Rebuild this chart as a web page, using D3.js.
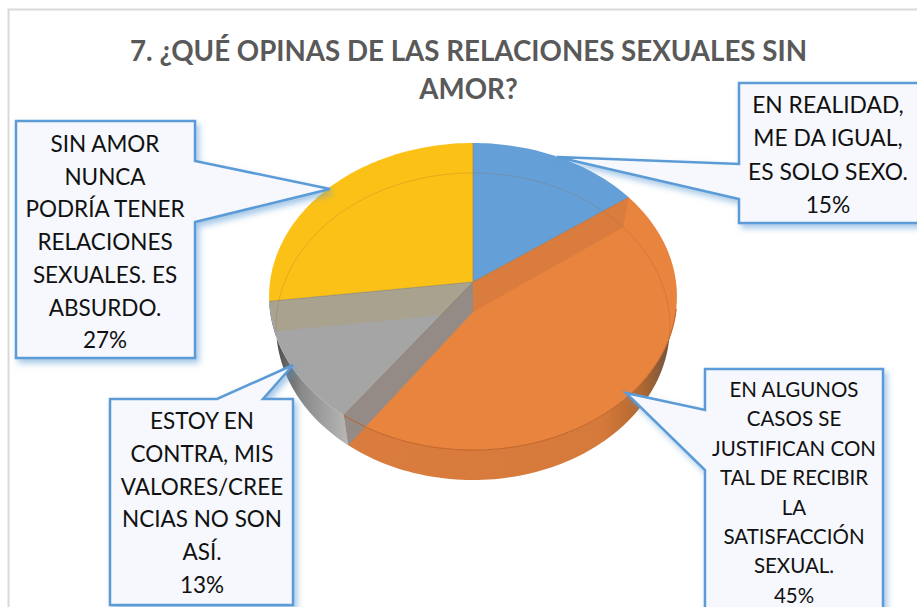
<!DOCTYPE html>
<meta charset="utf-8">
<style>
    html, body { margin: 0; padding: 0; background: #fff; overflow: hidden; }
    text { font-family: Lato, "Open Sans", sans-serif; }
</style>
<div id="chart"></div>
<script src="https://d3js.org/d3.v7.min.js"></script>
<script>
    // data, in slice order clockwise from 12 o'clock
    var categories = ['realidad', 'algunos', 'contra', 'nunca'];
    var values = [15, 45, 13, 27];
    var colours = ['#659fd7', '#e9843f', '#a5a5a5', '#fcc117'];
    var titleLines = ['7. ¿QUÉ OPINAS DE LAS RELACIONES SEXUALES SIN', 'AMOR?'];
    var labelLines = [
        ['EN REALIDAD,', 'ME DA IGUAL,', 'ES SOLO SEXO.'],
        ['EN ALGUNOS', 'CASOS SE', 'JUSTIFICAN CON', 'TAL DE RECIBIR', 'LA', 'SATISFACCIÓN', 'SEXUAL.'],
        ['ESTOY EN', 'CONTRA, MIS', 'VALORES/CREE', 'NCIAS NO SON', 'ASÍ.'],
        ['SIN AMOR', 'NUNCA', 'PODRÍA TENER', 'RELACIONES', 'SEXUALES. ES', 'ABSURDO.']
    ];

    var width = 917,
        height = 607,
        cx = 473,
        topR = 203,
        floorR = 196,
        depth = 30,
        // perspective of the disc: y = (persA * v + persB) / (persC * v + 1)
        persA = 125.5,
        persB = 282,
        persC = -0.0945;

    // callout boxes: outline goes clockwise from the box corner
    var callouts = [
        { outline: [[739, 83], [925, 83], [925, 223], [739, 223], [739, 199], [557, 157], [739, 164]],
          cx: 828, first: 113, step: 33.3, size: 22.8 },
        { outline: [[705, 369], [883, 369], [883, 620], [705, 620], [705, 470], [626, 393], [705, 410]],
          cx: 794, first: 397, step: 29.4, size: 20.5 },
        { outline: [[110, 399], [217, 399], [293, 365], [263, 399], [293, 399], [293, 605], [110, 605]],
          cx: 202, first: 429, step: 32.8, size: 22.5 },
        { outline: [[16, 121], [195, 121], [195, 161], [330, 189], [195, 222], [195, 358], [16, 358]],
          cx: 105, first: 152, step: 32.7, size: 22.5 }
    ];

    var svg = d3.select('#chart').append('svg')
        .attr('width', width)
        .attr('height', height);

    var defs = svg.append('defs');

    var shadow = defs.append('filter').attr('id', 'calloutShadow')
        .attr('x', '-20%').attr('y', '-20%').attr('width', '140%').attr('height', '140%');
    shadow.append('feDropShadow')
        .attr('dx', 3).attr('dy', 4).attr('stdDeviation', 3)
        .attr('flood-color', '#5b9bd5').attr('flood-opacity', 0.55);

    function gradient(id, x1, x2, stops) {
        var g = defs.append('linearGradient').attr('id', id)
            .attr('gradientUnits', 'userSpaceOnUse')
            .attr('x1', x1).attr('x2', x2).attr('y1', 0).attr('y2', 0);
        stops.forEach(function(s) {
            g.append('stop').attr('offset', s[0]).attr('stop-color', s[1]);
        });
    }
    gradient('wallGrey', 276, 350, [[0, '#4c4c4c'], [0.35, '#8a8a8a'], [1, '#b9b9b9']]);
    gradient('wallOrange', 350, 672, [[0, '#d97c3d'], [0.78, '#d67a3b'], [0.9, '#b5682f'], [1, '#6b5443']]);

    // frame of the chart area
    svg.append('path')
        .attr('d', 'M8.5,' + height + 'V9.5H' + width)
        .attr('fill', 'none')
        .attr('stroke', '#d9d9d9')
        .attr('stroke-width', 2);

    // title
    svg.append('g').selectAll('text').data(titleLines).enter().append('text')
        .attr('x', 468.5)
        .attr('y', function(d, i) { return 61 + i * 38; })
        .attr('text-anchor', 'middle')
        .attr('font-size', 27.7)
        .attr('font-weight', 700)
        .attr('fill', '#595959')
        .text(function(d) { return d; });

    // the disc
    var slices = d3.pie().sort(null).startAngle(0).endAngle(2 * Math.PI)(values);
    var line = d3.line();

    function topPoint(a, f) {
        var u = Math.sin(a) * f,
            v = -Math.cos(a) * f,
            den = persC * v + 1;
        return [cx + topR * u / den, (persA * v + persB) / den];
    }

    function floorPoint(a, f) {
        var u = Math.sin(a) * f,
            v = -Math.cos(a) * f,
            den = persC * v + 1;
        return [cx + floorR * u / den, (persA * v + persB) / den + depth];
    }

    function arcPoints(fn, a0, a1) {
        var n = Math.max(2, Math.ceil(Math.abs(a1 - a0) * 40));
        return d3.range(n + 1).map(function(i) {
            return fn(a0 + (a1 - a0) * i / n, 1);
        });
    }

    function deg(d) { return d * Math.PI / 180; }

    var orange = slices[1],
        grey = slices[2],
        yellow = slices[3];

    // outer walls, only the part facing the viewer
    var wallStart = deg(100);
    svg.append('path')
        .attr('d', line(arcPoints(topPoint, wallStart, orange.endAngle)
            .concat(arcPoints(floorPoint, orange.endAngle, wallStart))) + 'Z')
        .attr('fill', 'url(#wallOrange)');
    svg.append('path')
        .attr('d', line(arcPoints(topPoint, grey.startAngle, grey.endAngle)
            .concat(arcPoints(floorPoint, grey.endAngle, grey.startAngle))) + 'Z')
        .attr('fill', 'url(#wallGrey)');

    // top faces
    function slicePath(d) {
        return line([topPoint(0, 0)].concat(arcPoints(topPoint, d.startAngle, d.endAngle))) + 'Z';
    }
    svg.append('g').selectAll('path').data(slices).enter().append('path')
        .attr('class', function(d, i) { return 'slice ' + categories[i]; })
        .attr('d', slicePath)
        .attr('fill', function(d, i) { return colours[i]; });

    defs.append('clipPath').attr('id', 'greyClip')
        .append('path').attr('d', slicePath(grey));

    function strip(a) {
        return line([topPoint(0, 0), topPoint(a, 1), floorPoint(a, 1), floorPoint(0, 0)]) + 'Z';
    }

    // inner side walls seen through the top
    svg.append('path')
        .attr('d', strip(orange.startAngle))
        .attr('fill', '#d97c3d');
    svg.append('path')
        .attr('d', strip(yellow.startAngle))
        .attr('clip-path', 'url(#greyClip)')
        .attr('fill', '#a9a28e');
    svg.append('path')
        .attr('d', strip(grey.startAngle))
        .attr('fill', '#958b86');

    // faint back edge of the floor
    svg.append('path')
        .attr('d', line(arcPoints(floorPoint, yellow.startAngle, 2 * Math.PI + orange.startAngle)))
        .attr('fill', 'none')
        .attr('stroke', '#8a6a30')
        .attr('stroke-opacity', 0.3)
        .attr('stroke-width', 0.8);
    svg.append('path')
        .attr('d', line(arcPoints(floorPoint, orange.startAngle, wallStart)))
        .attr('fill', 'none')
        .attr('stroke', '#b5642c')
        .attr('stroke-opacity', 0.5)
        .attr('stroke-width', 0.8);

    // front rim of the top
    svg.append('path')
        .attr('d', line(arcPoints(topPoint, wallStart, grey.startAngle)))
        .attr('fill', 'none')
        .attr('stroke', '#bf6226')
        .attr('stroke-width', 1);

    // slice borders
    svg.append('g').selectAll('path').data(slices).enter().append('path')
        .attr('d', function(d) { return line([topPoint(0, 0), topPoint(d.startAngle, 1)]); })
        .attr('fill', 'none')
        .attr('stroke', '#7d7a6a')
        .attr('stroke-opacity', 0.7)
        .attr('stroke-width', 0.8);

    // callouts with their labels
    var callout = svg.append('g').selectAll('g').data(callouts).enter().append('g');

    callout.append('path')
        .attr('d', function(d) { return line(d.outline) + 'Z'; })
        .attr('fill', '#f6f8fd')
        .attr('stroke', '#5b9bd5')
        .attr('stroke-width', 2.5)
        .attr('stroke-linejoin', 'miter')
        .attr('filter', 'url(#calloutShadow)');

    callout.each(function(d, i) {
        var lines = labelLines[i].concat([values[i] + '%']);
        d3.select(this).selectAll('text').data(lines).enter().append('text')
            .attr('x', d.cx)
            .attr('y', function(t, j) { return d.first + j * d.step; })
            .attr('text-anchor', 'middle')
            .attr('font-size', d.size)
            .attr('fill', '#111')
            .text(function(t) { return t; });
    });
</script>
